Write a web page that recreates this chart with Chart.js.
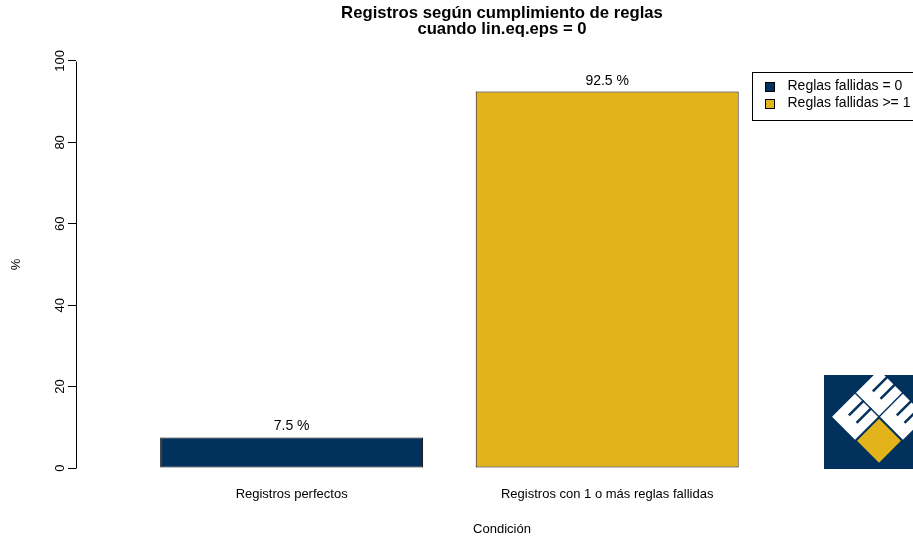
<!DOCTYPE html>
<html>
<head>
<meta charset="utf-8">
<script src="https://cdn.jsdelivr.net/npm/chart.js@4.4.0/dist/chart.umd.min.js"></script>
<style>
  html, body { margin: 0; padding: 0; overflow: hidden; background: #fff; }
  canvas { display: block; }
</style>
</head>
<body>
<canvas id="grafico" width="1003" height="538"></canvas>
<script>
const categorias = ['Registros perfectos', 'Registros con 1 o más reglas fallidas'];
const porcentajes = [7.5, 92.5];
const leyenda = ['Reglas fallidas = 0', 'Reglas fallidas >= 1'];
const colores = ['#03315E', '#E2B31A'];
const ticksY = [0, 20, 40, 60, 80, 100];
const titulo = ['Registros según cumplimiento de reglas', 'cuando lin.eq.eps = 0'];

// como barplot(): barras de ancho 1 separadas por 0.2
const espacio = 0.2, ancho = 1;
const centro = i => espacio * (i + 1) + ancho * (i + 0.5);

Chart.defaults.font.family = '"Liberation Sans", Arial, sans-serif';
Chart.defaults.color = '#000';

function rombo(ctx, cx, cy, h) {
    ctx.beginPath();
    ctx.moveTo(cx - h, cy);
    ctx.lineTo(cx, cy - h);
    ctx.lineTo(cx + h, cy);
    ctx.lineTo(cx, cy + h);
    ctx.closePath();
    ctx.fill();
}

function dibujarLogo(ctx, x0, y0, lado) {
    ctx.save();
    ctx.beginPath();
    ctx.rect(x0, y0, lado, lado);
    ctx.clip();
    ctx.fillStyle = colores[0];
    ctx.fillRect(x0, y0, lado, lado);
    const r = lado * 0.255;
    const gx = x0 + lado * 0.585, gy = y0 + lado * 0.70;
    ctx.fillStyle = colores[1];
    rombo(ctx, gx, gy, r - 2);
    const blancos = [[gx - r, gy - r], [gx + r, gy - r], [gx, gy - 2 * r]];
    ctx.fillStyle = '#fff';
    blancos.forEach(([cx, cy]) => rombo(ctx, cx, cy, r - 1));
    // ranuras de cada E
    ctx.strokeStyle = colores[0];
    ctx.lineWidth = 2.5;
    blancos.forEach(([cx, cy]) => {
        const h = r - 1;
        [1 / 3, 2 / 3].forEach(t => {
            const px = cx + t * h, py = cy - h + t * h;
            ctx.beginPath();
            ctx.moveTo(px + 1, py - 1);
            ctx.lineTo(px - 0.6 * h, py + 0.6 * h);
            ctx.stroke();
        });
    });
    ctx.restore();
}

const extras = {
    id: 'extras',
    afterDatasetsDraw(chart) {
        const ctx = chart.ctx;
        const y = chart.scales.y;
        ctx.save();
        // linea del eje y, solo entre 0 y 100
        ctx.strokeStyle = '#000';
        ctx.lineWidth = 1;
        const ax = Math.round(chart.chartArea.left) + 0.5;
        ctx.beginPath();
        ctx.moveTo(ax, Math.round(y.getPixelForValue(ticksY[0])) + 0.5);
        ctx.lineTo(ax, Math.round(y.getPixelForValue(ticksY[ticksY.length - 1])) + 0.5);
        ctx.stroke();

        // porcentaje encima de cada barra
        ctx.font = '14px "Liberation Sans", Arial, sans-serif';
        ctx.fillStyle = '#000';
        ctx.textAlign = 'center';
        ctx.textBaseline = 'alphabetic';
        chart.getDatasetMeta(0).data.forEach((bar, i) => {
            ctx.fillText(porcentajes[i] + ' %', bar.x, bar.y - 7);
        });
        ctx.restore();
    },
    afterDraw(chart) {
        const ctx = chart.ctx;
        const a = chart.chartArea;
        ctx.save();
        // leyenda arriba a la derecha
        const lx = Math.round(a.right - 176) + 0.5, ly = Math.round(a.top + 27) + 0.5;
        ctx.fillStyle = '#fff';
        ctx.fillRect(lx, ly, 168, 48);
        ctx.strokeStyle = '#000';
        ctx.lineWidth = 1;
        ctx.strokeRect(lx, ly, 168, 48);
        ctx.font = '14px "Liberation Sans", Arial, sans-serif';
        ctx.textAlign = 'left';
        ctx.textBaseline = 'middle';
        leyenda.forEach((txt, i) => {
            const yy = ly + 14 + i * 17;
            ctx.fillStyle = colores[i];
            ctx.fillRect(lx + 13, Math.round(yy - 5) + 0.5, 9, 9);
            ctx.strokeRect(lx + 13, Math.round(yy - 5) + 0.5, 9, 9);
            ctx.fillStyle = '#000';
            ctx.fillText(txt, lx + 35, yy);
        });
        ctx.restore();

        const y0 = chart.scales.y.getPixelForValue(0);
        dibujarLogo(ctx, Math.round(a.right - 104), Math.round(y0 - 93), 94);
    }
};

new Chart(document.getElementById('grafico'), {
    type: 'bar',
    data: {
        datasets: [{
            data: porcentajes.map((v, i) => ({ x: centro(i), y: v })),
            backgroundColor: colores,
            borderColor: '#000',
            borderWidth: 1,
            borderSkipped: false,
            barPercentage: 1,
            categoryPercentage: ancho / (ancho + espacio)
        }]
    },
    options: {
        responsive: false,
        animation: false,
        layout: { padding: { left: 0, right: 75, top: 0, bottom: 0 } },
        plugins: {
            legend: { display: false },
            tooltip: { enabled: false },
            title: {
                display: true,
                fullSize: false,
                text: titulo,
                color: '#000',
                font: { size: 16.7, weight: 'bold', lineHeight: '16px' },
                padding: { top: 5, bottom: 7.7 }
            }
        },
        scales: {
            x: {
                type: 'linear',
                min: -0.12,
                max: 3.12,
                offset: false,
                grid: { display: false, drawTicks: false },
                border: { display: false },
                afterBuildTicks: s => { s.ticks = categorias.map((c, i) => ({ value: centro(i) })); },
                afterFit: s => { s.height = 53.7; },
                ticks: {
                    autoSkip: false,
                    maxRotation: 0,
                    padding: 2,
                    font: { size: 13 },
                    callback: (v, i) => categorias[i]
                },
                title: { display: true, text: 'Condición', font: { size: 13 }, padding: { top: 4, bottom: 1.2 } }
            },
            y: {
                min: -4,
                max: 104,
                afterBuildTicks: s => { s.ticks = ticksY.map(v => ({ value: v })); },
                afterFit: s => { s.width = 76; },
                grid: { drawOnChartArea: false, drawTicks: true, tickLength: 8, color: '#000' },
                border: { display: false },
                ticks: { minRotation: 90, maxRotation: 90, crossAlign: 'center', padding: -3, font: { size: 13 } },
                title: { display: true, text: '%', font: { size: 13 }, padding: { top: 9 } }
            }
        }
    },
    plugins: [extras]
});
</script>
</body>
</html>
